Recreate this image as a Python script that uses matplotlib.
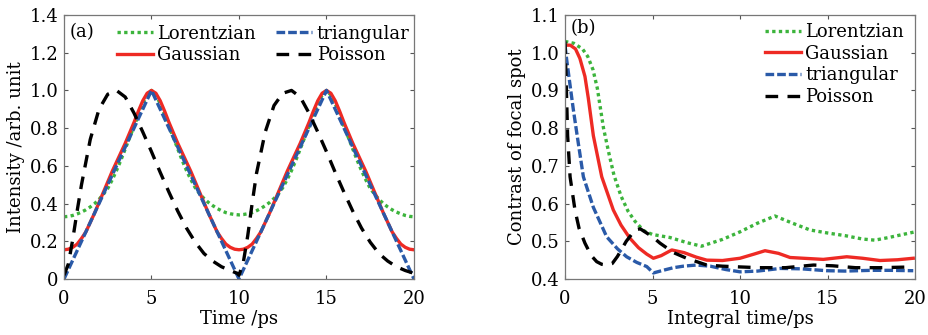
import matplotlib
matplotlib.use("Agg")
import matplotlib.pyplot as plt

plt.rcParams['font.family'] = ['DejaVu Serif']

# ---------------- panel (a) data ----------------
t_a = [0, 0.25, 0.5, 0.75, 1, 1.25, 1.5, 1.75, 2, 2.25, 2.5, 2.75, 3, 3.25, 3.5, 3.75, 4, 4.25, 4.5, 4.75,
       5, 5.25, 5.5, 5.75, 6, 6.25, 6.5, 6.75, 7, 7.25, 7.5, 7.75, 8, 8.25, 8.5, 8.75, 9, 9.25, 9.5, 9.75,
       10, 10.25, 10.5, 10.75, 11, 11.25, 11.5, 11.75, 12, 12.25, 12.5, 12.75, 13, 13.25, 13.5, 13.75,
       14, 14.25, 14.5, 14.75, 15, 15.25, 15.5, 15.75, 16, 16.25, 16.5, 16.75, 17, 17.25, 17.5, 17.75,
       18, 18.25, 18.5, 18.75, 19, 19.25, 19.5, 19.75, 20]
lorentzian_a = [0.33, 0.332, 0.337, 0.345, 0.355, 0.367, 0.382, 0.4, 0.422, 0.45, 0.48, 0.525, 0.575,
                0.63, 0.69, 0.75, 0.81, 0.87, 0.93, 0.975,
                1.0, 0.975, 0.93, 0.87, 0.81, 0.75, 0.69, 0.63, 0.575, 0.527, 0.484, 0.452, 0.427,
                0.406, 0.389, 0.374, 0.362, 0.352, 0.346, 0.342,
                0.34, 0.342, 0.346, 0.352, 0.362, 0.374, 0.389, 0.406, 0.427, 0.452, 0.484, 0.527,
                0.575, 0.63, 0.69, 0.75, 0.81, 0.87, 0.93, 0.975,
                1.0, 0.975, 0.93, 0.87, 0.81, 0.75, 0.69, 0.63, 0.575, 0.525, 0.48, 0.45, 0.422,
                0.4, 0.382, 0.367, 0.355, 0.345, 0.337, 0.332, 0.33]
gaussian_a = [0.155, 0.158, 0.168, 0.185, 0.215, 0.25, 0.3, 0.35, 0.405, 0.46, 0.515, 0.57, 0.62,
              0.67, 0.72, 0.775, 0.83, 0.89, 0.945, 0.985,
              1.0, 0.985, 0.945, 0.89, 0.83, 0.775, 0.72, 0.67, 0.62, 0.57, 0.515, 0.46, 0.405,
              0.35, 0.3, 0.25, 0.215, 0.185, 0.168, 0.158,
              0.155, 0.158, 0.168, 0.185, 0.215, 0.25, 0.3, 0.35, 0.405, 0.46, 0.515, 0.57, 0.62,
              0.67, 0.72, 0.775, 0.83, 0.89, 0.945, 0.985,
              1.0, 0.985, 0.945, 0.89, 0.83, 0.775, 0.72, 0.67, 0.62, 0.57, 0.515, 0.46, 0.405,
              0.35, 0.3, 0.25, 0.215, 0.185, 0.168, 0.158, 0.155]
t_tri = [0, 5, 10, 15, 20]
triangular_a = [0.0, 1.0, 0.0, 1.0, 0.0]
t_poi = [0, 0.25, 0.5, 0.75, 1.0, 1.5, 2.0, 2.5, 3.0, 3.5, 4.0, 4.5, 5.0, 5.5, 6.0, 6.5, 7.0,
         7.5, 8.0, 8.5, 9.0, 9.5, 9.9,
         10.0, 10.25, 10.5, 10.75, 11.0, 11.5, 12.0, 12.5, 13.0, 13.5, 14.0, 14.5, 15.0, 15.5,
         16.0, 16.5, 17.0, 17.5, 18.0, 18.5, 19.0, 19.5, 20.0]
poisson_a = [0.02, 0.08, 0.21, 0.36, 0.5, 0.74, 0.9, 0.98, 1.0, 0.965, 0.88, 0.78, 0.675,
             0.565, 0.46, 0.36, 0.27, 0.195, 0.135, 0.095, 0.065, 0.045, 0.03,
             0.02, 0.09, 0.23, 0.4, 0.56, 0.78, 0.92, 0.985, 1.0, 0.965, 0.88, 0.78, 0.675,
             0.565, 0.46, 0.36, 0.27, 0.195, 0.135, 0.095, 0.065, 0.045, 0.03]

# ---------------- panel (b) data ----------------
t_lor_b = [0, 0.5, 1.0, 1.3, 1.6, 1.85, 2.2, 2.5, 2.8, 3.2, 3.6, 4.0, 4.5, 5.0, 6.0, 7.0, 7.8,
           9.0, 10.0, 11.0, 12.0, 13.0, 14.0, 15.0, 16.0, 17.0, 17.7, 18.5, 19.3, 20.0]
lorentzian_b = [1.03, 1.025, 1.01, 0.99, 0.955, 0.905, 0.8, 0.735, 0.675, 0.62, 0.58, 0.553,
                0.528, 0.518, 0.51, 0.496, 0.487, 0.505, 0.525, 0.548, 0.567, 0.548, 0.53,
                0.522, 0.515, 0.506, 0.503, 0.51, 0.518, 0.525]
t_gau_b = [0, 0.3, 0.6, 0.85, 1.14, 1.33, 1.62, 2.1, 2.76, 3.2, 3.71, 4.2, 4.67, 5.05, 5.5,
           6.1, 6.8, 7.5, 8.1, 9.0, 10.0, 10.8, 11.43, 12.2, 12.86, 14.0, 14.76, 16.1, 17.0,
           18.0, 19.0, 19.9]
gaussian_b = [1.02, 1.02, 1.01, 0.985, 0.937, 0.88, 0.78, 0.671, 0.583, 0.543, 0.508, 0.483,
              0.466, 0.455, 0.462, 0.477, 0.47, 0.458, 0.45, 0.449, 0.455, 0.466, 0.475, 0.468,
              0.457, 0.454, 0.452, 0.459, 0.455, 0.449, 0.451, 0.455]
t_tri_b = [0, 0.1, 0.3, 0.48, 0.76, 1.05, 1.62, 2.38, 3.0, 3.52, 4.1, 4.67, 5.05, 5.6, 6.2,
           6.76, 7.5, 8.3, 9.2, 10.0, 11.0, 12.3, 13.5, 14.95, 16.0, 17.5, 18.5, 19.9]
triangular_b = [1.02, 0.98, 0.91, 0.848, 0.76, 0.671, 0.59, 0.512, 0.48, 0.459, 0.444, 0.433,
                0.416, 0.423, 0.43, 0.434, 0.437, 0.434, 0.425, 0.419, 0.421, 0.428, 0.427,
                0.422, 0.421, 0.423, 0.423, 0.422]
t_poi_b = [0, 0.08, 0.15, 0.29, 0.57, 0.8, 1.14, 1.5, 1.81, 2.1, 2.4, 2.7, 3.0, 3.5, 4.0, 4.3,
           5.0, 5.43, 6.2, 6.95, 8.1, 9.0, 10.0, 11.1, 12.6, 14.2, 15.3, 16.6, 18.0, 19.9]
poisson_b = [1.03, 0.9, 0.78, 0.671, 0.583, 0.535, 0.495, 0.462, 0.446, 0.439, 0.437, 0.441,
             0.46, 0.5, 0.53, 0.533, 0.512, 0.495, 0.47, 0.455, 0.437, 0.434, 0.432, 0.43,
             0.43, 0.437, 0.435, 0.43, 0.43, 0.432]

names = ['Lorentzian', 'Gaussian', 'triangular', 'Poisson']
GREEN = '#3cb43c'
RED = '#ee2a24'
BLUE = '#2a5aa8'
BLACK = '#000000'
LW = 2.4
LS = {'Lorentzian': (0, (1.0, 1.0)), 'Gaussian': '-',
      'triangular': (0, (2.6, 0.9)), 'Poisson': (0, (3.8, 2.8))}

fig = plt.figure(figsize=(9.29, 3.35), dpi=100)
axa = fig.add_axes([64/929, 1 - 279/335, 350/929, 264/335])
axb = fig.add_axes([565/929, 1 - 279/335, 350/929, 264/335])

def style_axis(ax):
    ax.tick_params(direction='in', length=3, width=0.8, top=True, right=True,
                   labelsize=13, color='#555555')
    ax.tick_params(axis='x', pad=8)
    ax.tick_params(axis='y', pad=4)
    for s in ax.spines.values():
        s.set_color('#777777')
        s.set_linewidth(0.9)

# panel (a)
axa.plot(t_a, lorentzian_a, color=GREEN, lw=LW, linestyle=LS['Lorentzian'], label=names[0])
axa.plot(t_a, gaussian_a, color=RED, lw=LW, linestyle=LS['Gaussian'], label=names[1])
axa.plot(t_tri, triangular_a, color=BLUE, lw=LW, linestyle=LS['triangular'], label=names[2])
axa.plot(t_poi, poisson_a, color=BLACK, lw=LW, linestyle=LS['Poisson'], label=names[3])
axa.set_xlim(0, 20)
axa.set_ylim(0, 1.4)
axa.set_xticks([0, 5, 10, 15, 20])
axa.set_yticks([0, 0.2, 0.4, 0.6, 0.8, 1.0, 1.2, 1.4])
axa.set_yticklabels(['0', '0.2', '0.4', '0.6', '0.8', '1.0', '1.2', '1.4'])
axa.set_xlabel('Time /ps', fontsize=13, labelpad=1)
axa.set_ylabel('Intensity /arb. unit', fontsize=13, labelpad=3)
style_axis(axa)
axa.text(0.015, 0.97, '(a)', transform=axa.transAxes, fontsize=13, va='top', ha='left')
axa.legend(ncol=2, loc='upper left', bbox_to_anchor=(0.12, 1.005), frameon=False,
           fontsize=13, handlelength=2.0, handletextpad=0.25, columnspacing=1.1,
           labelspacing=0.2, borderaxespad=0.2)

# panel (b)
axb.plot(t_lor_b, lorentzian_b, color=GREEN, lw=LW, linestyle=LS['Lorentzian'], label=names[0])
axb.plot(t_gau_b, gaussian_b, color=RED, lw=LW, linestyle=LS['Gaussian'], label=names[1])
axb.plot(t_tri_b, triangular_b, color=BLUE, lw=LW, linestyle=LS['triangular'], label=names[2])
axb.plot(t_poi_b, poisson_b, color=BLACK, lw=LW, linestyle=LS['Poisson'], label=names[3])
axb.set_xlim(0, 20)
axb.set_ylim(0.4, 1.1)
axb.set_xticks([0, 5, 10, 15, 20])
axb.set_yticks([0.4, 0.5, 0.6, 0.7, 0.8, 0.9, 1.0, 1.1])
axb.set_xlabel('Integral time/ps', fontsize=13, labelpad=1)
axb.set_ylabel('Contrast of focal spot', fontsize=13, labelpad=3)
style_axis(axb)
axb.text(0.015, 0.985, '(b)', transform=axb.transAxes, fontsize=13, va='top', ha='left')
axb.legend(loc='upper right', bbox_to_anchor=(1.0, 1.01), frameon=False,
           fontsize=13, handlelength=2.0, handletextpad=0.25,
           labelspacing=0.2, borderaxespad=0.2)

fig.savefig('out.png', dpi=100)
